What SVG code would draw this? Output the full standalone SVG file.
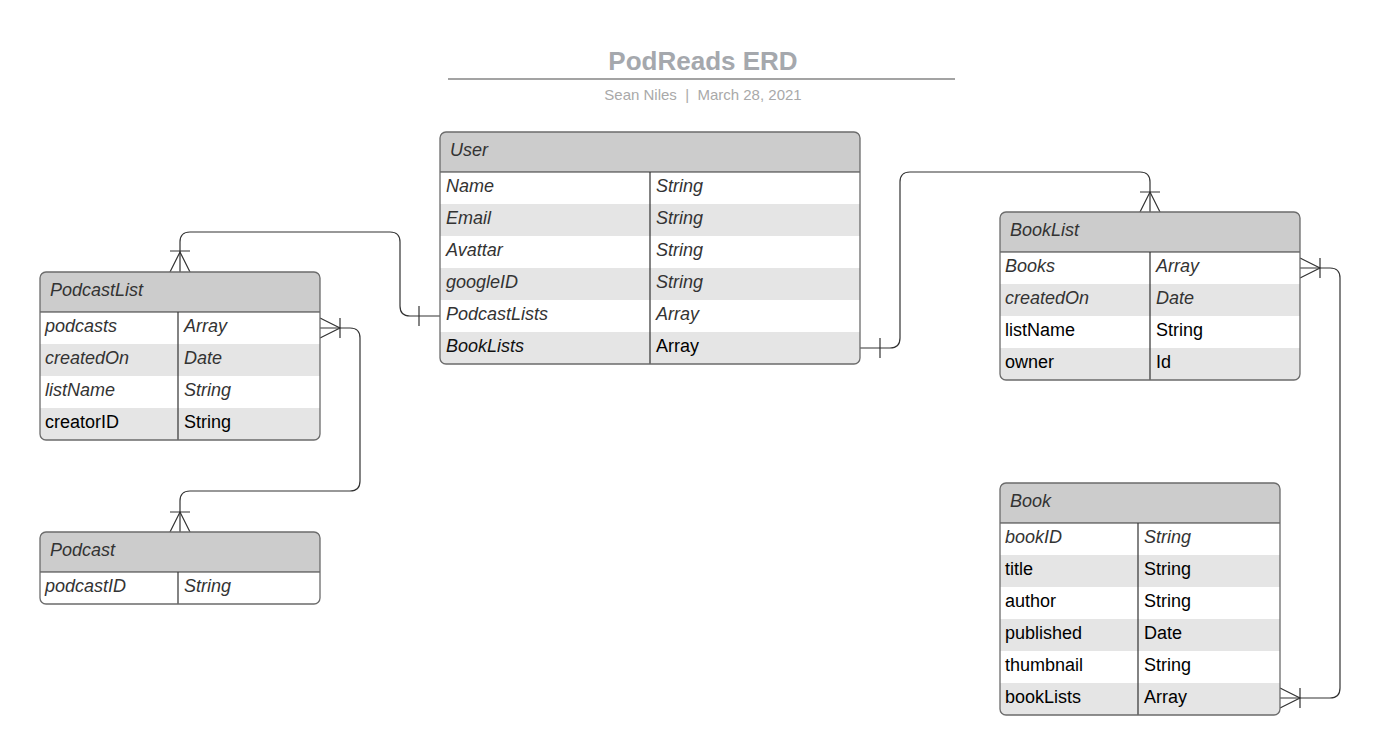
<svg xmlns="http://www.w3.org/2000/svg" width="1381" height="755" viewBox="0 0 1381 755">
<style>
.bg{fill:#ffffff}
.hdr{fill:#cccccc}
.alt{fill:#e5e5e5}
.frame{fill:none;stroke:#6b6b6b;stroke-width:1.3}
.sep{stroke:#333333;stroke-width:1.2;fill:none}
.t{font-family:"Liberation Sans",Arial,sans-serif;font-size:18px}
.i{font-style:italic;fill:#333333}
.n{fill:#000000}
.h{font-family:"Liberation Sans",Arial,sans-serif;font-size:18px;font-style:italic;fill:#333333}
.conn{fill:none;stroke:#333333;stroke-width:1.2}
.title{font-family:"Liberation Sans",Arial,sans-serif;font-size:26px;font-weight:bold;fill:#a5a8ad}
.sub{font-family:"Liberation Sans",Arial,sans-serif;font-size:15px;fill:#a9a9a9;white-space:pre}
</style>

<g id="title">
<text class="title" x="703" y="70" text-anchor="middle">PodReads ERD</text>
<path d="M448,79 H955" stroke="#a3a3a3" stroke-width="2"/>
<text class="sub" x="703" y="100" text-anchor="middle" xml:space="preserve">Sean Niles  |  March 28, 2021</text>
</g>

<g id="connectors">
<!-- User.PodcastLists -> PodcastList -->
<path class="conn" d="M440,316 H410 Q400,316 400,306 V242 Q400,232 390,232 H190 Q180,232 180,242 V272"/>
<path class="conn" d="M419,306 V326"/>
<path class="conn" d="M170,251 H190 M170,272 L180,252 L190,272"/>
<!-- PodcastList.podcasts -> Podcast -->
<path class="conn" d="M320,328 H350 Q360,328 360,338 V481 Q360,491 350,491 H190 Q180,491 180,501 V532"/>
<path class="conn" d="M320,318 L340,328 L320,338 M340,318 V338"/>
<path class="conn" d="M170,512 H190 M170,532 L180,512 L190,532"/>
<!-- User.BookLists -> BookList -->
<path class="conn" d="M860,348 H890 Q900,348 900,338 V182 Q900,172 910,172 H1140 Q1150,172 1150,182 V212"/>
<path class="conn" d="M880,338 V358"/>
<path class="conn" d="M1140,192 H1160 M1140,212 L1150,192 L1160,212"/>
<!-- BookList.Books <-> Book.bookLists -->
<path class="conn" d="M1300,268 H1330 Q1340,268 1340,278 V688 Q1340,698 1330,698 H1280"/>
<path class="conn" d="M1300,258 L1320,268 L1300,278 M1320,258 V278"/>
<path class="conn" d="M1280,688 L1300,698 L1280,708 M1300,688 V708"/>
</g>

<g id="User">
<rect class="bg" x="440" y="132" width="420" height="232" rx="6"/>
<path class="hdr" d="M440,172 V138 Q440,132 446,132 H854 Q860,132 860,138 V172 Z"/>
<rect class="alt" x="440" y="204" width="420" height="32"/>
<rect class="alt" x="440" y="268" width="420" height="32"/>
<path class="alt" d="M440,332 H860 V358 Q860,364 854,364 H446 Q440,364 440,358 Z"/>
<path class="sep" d="M440,172 H860 M650,172 V364"/>
<rect class="frame" x="440" y="132" width="420" height="232" rx="6"/>
<text class="h" x="450" y="156">User</text>
<text class="t i" x="446" y="192">Name</text><text class="t i" x="656" y="192">String</text>
<text class="t i" x="446" y="224">Email</text><text class="t i" x="656" y="224">String</text>
<text class="t i" x="446" y="256">Avattar</text><text class="t i" x="656" y="256">String</text>
<text class="t i" x="446" y="288">googleID</text><text class="t i" x="656" y="288">String</text>
<text class="t i" x="446" y="320">PodcastLists</text><text class="t i" x="656" y="320">Array</text>
<text class="t i" x="446" y="352" style="fill:#111111">BookLists</text><text class="t n" x="656" y="352">Array</text>
</g>

<g id="PodcastList">
<rect class="bg" x="40" y="272" width="280" height="168" rx="6"/>
<path class="hdr" d="M40,312 V278 Q40,272 46,272 H314 Q320,272 320,278 V312 Z"/>
<rect class="alt" x="40" y="344" width="280" height="32"/>
<path class="alt" d="M40,408 H320 V434 Q320,440 314,440 H46 Q40,440 40,434 Z"/>
<path class="sep" d="M40,312 H320 M178,312 V440"/>
<rect class="frame" x="40" y="272" width="280" height="168" rx="6"/>
<text class="h" x="50" y="296">PodcastList</text>
<text class="t i" x="45" y="332">podcasts</text><text class="t i" x="184" y="332">Array</text>
<text class="t i" x="45" y="364">createdOn</text><text class="t i" x="184" y="364">Date</text>
<text class="t i" x="45" y="396">listName</text><text class="t i" x="184" y="396">String</text>
<text class="t n" x="45" y="428">creatorID</text><text class="t n" x="184" y="428">String</text>
</g>

<g id="Podcast">
<rect class="bg" x="40" y="532" width="280" height="72" rx="6"/>
<path class="hdr" d="M40,572 V538 Q40,532 46,532 H314 Q320,532 320,538 V572 Z"/>
<path class="sep" d="M40,572 H320 M178,572 V604"/>
<rect class="frame" x="40" y="532" width="280" height="72" rx="6"/>
<text class="h" x="50" y="556">Podcast</text>
<text class="t i" x="45" y="592">podcastID</text><text class="t i" x="184" y="592">String</text>
</g>

<g id="BookList">
<rect class="bg" x="1000" y="212" width="300" height="168" rx="6"/>
<path class="hdr" d="M1000,252 V218 Q1000,212 1006,212 H1294 Q1300,212 1300,218 V252 Z"/>
<rect class="alt" x="1000" y="284" width="300" height="32"/>
<path class="alt" d="M1000,348 H1300 V374 Q1300,380 1294,380 H1006 Q1000,380 1000,374 Z"/>
<path class="sep" d="M1000,252 H1300 M1150,252 V380"/>
<rect class="frame" x="1000" y="212" width="300" height="168" rx="6"/>
<text class="h" x="1010" y="236">BookList</text>
<text class="t i" x="1005" y="272">Books</text><text class="t i" x="1156" y="272">Array</text>
<text class="t i" x="1005" y="304">createdOn</text><text class="t i" x="1156" y="304">Date</text>
<text class="t n" x="1005" y="336">listName</text><text class="t n" x="1156" y="336">String</text>
<text class="t n" x="1005" y="368">owner</text><text class="t n" x="1156" y="368">Id</text>
</g>

<g id="Book">
<rect class="bg" x="1000" y="483" width="280" height="232" rx="6"/>
<path class="hdr" d="M1000,523 V489 Q1000,483 1006,483 H1274 Q1280,483 1280,489 V523 Z"/>
<rect class="alt" x="1000" y="555" width="280" height="32"/>
<rect class="alt" x="1000" y="619" width="280" height="32"/>
<path class="alt" d="M1000,683 H1280 V709 Q1280,715 1274,715 H1006 Q1000,715 1000,709 Z"/>
<path class="sep" d="M1000,523 H1280 M1138,523 V715"/>
<rect class="frame" x="1000" y="483" width="280" height="232" rx="6"/>
<text class="h" x="1010" y="507">Book</text>
<text class="t i" x="1005" y="543">bookID</text><text class="t i" x="1144" y="543">String</text>
<text class="t n" x="1005" y="575">title</text><text class="t n" x="1144" y="575">String</text>
<text class="t n" x="1005" y="607">author</text><text class="t n" x="1144" y="607">String</text>
<text class="t n" x="1005" y="639">published</text><text class="t n" x="1144" y="639">Date</text>
<text class="t n" x="1005" y="671">thumbnail</text><text class="t n" x="1144" y="671">String</text>
<text class="t n" x="1005" y="703">bookLists</text><text class="t n" x="1144" y="703">Array</text>
</g>
</svg>
